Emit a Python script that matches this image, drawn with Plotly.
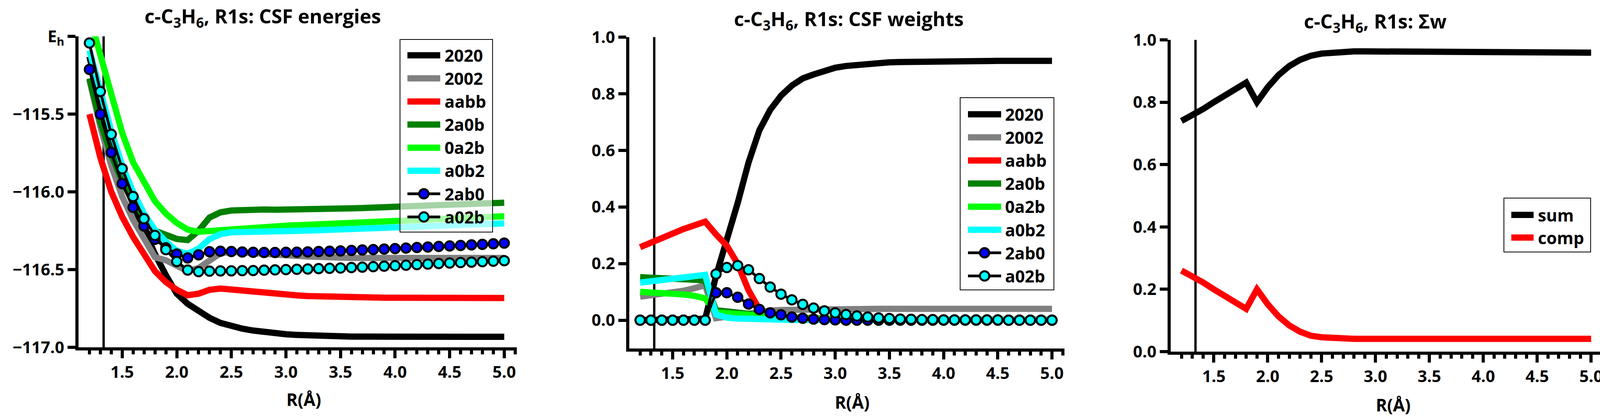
import plotly.graph_objects as go

# ------------------------------------------------------------
# data
# ------------------------------------------------------------
R = [1.2, 1.3, 1.4, 1.5, 1.6, 1.7, 1.8, 1.9, 2.0, 2.1, 2.2, 2.3, 2.4,
     2.5, 2.6, 2.7, 2.8, 2.9, 3.0, 3.1, 3.2, 3.3, 3.4, 3.5, 3.6, 3.7,
     3.8, 3.9, 4.0, 4.1, 4.2, 4.3, 4.4, 4.5, 4.6, 4.7, 4.8, 4.9, 5.0]

R_REF = 1.33  # vertical reference line

# CSF energies (Eh)
E_2020 = [-115.13, -115.43, -115.68, -115.90, -116.08, -116.245, -116.40, -116.535, -116.655,
          -116.72, -116.77, -116.81, -116.843, -116.865, -116.88, -116.892, -116.902, -116.91,
          -116.916, -116.92, -116.924, -116.927, -116.929, -116.93, -116.931, -116.931, -116.932,
          -116.932, -116.932, -116.932, -116.932, -116.932, -116.932, -116.932, -116.932, -116.932,
          -116.932, -116.932, -116.932]
E_2002 = [-115.28, -115.58, -115.83, -116.03, -116.18, -116.30, -116.42, -116.44, -116.48,
          -116.51, -116.49, -116.44, -116.395, -116.385, -116.388, -116.392, -116.397, -116.402,
          -116.407, -116.412, -116.416, -116.42, -116.422, -116.424, -116.425, -116.425, -116.425,
          -116.425, -116.425, -116.425, -116.425, -116.425, -116.425, -116.425, -116.425, -116.425,
          -116.425, -116.425, -116.425]
E_aabb = [-115.50, -115.78, -116.00, -116.16, -116.29, -116.405, -116.51, -116.58, -116.63,
          -116.665, -116.655, -116.63, -116.622, -116.628, -116.636, -116.644, -116.651, -116.657,
          -116.662, -116.666, -116.67, -116.673, -116.675, -116.677, -116.678, -116.679, -116.68,
          -116.681, -116.681, -116.682, -116.682, -116.682, -116.683, -116.683, -116.683, -116.683,
          -116.683, -116.683, -116.683]
E_2a0b = [-115.27, -115.55, -115.76, -115.93, -116.07, -116.17, -116.25, -116.28, -116.303,
          -116.31, -116.25, -116.165, -116.132, -116.12, -116.115, -116.114, -116.114, -116.115,
          -116.115, -116.114, -116.113, -116.111, -116.11, -116.108, -116.106, -116.104, -116.102,
          -116.10, -116.098, -116.095, -116.093, -116.09, -116.088, -116.085, -116.082, -116.079,
          -116.076, -116.073, -116.07]
E_0a2b = [-114.87, -115.12, -115.37, -115.62, -115.81, -115.945, -116.06, -116.14, -116.20,
          -116.243, -116.257, -116.252, -116.246, -116.24, -116.235, -116.23, -116.226, -116.222,
          -116.218, -116.215, -116.212, -116.209, -116.206, -116.203, -116.20, -116.197, -116.194,
          -116.19, -116.187, -116.184, -116.181, -116.178, -116.175, -116.172, -116.169, -116.166,
          -116.163, -116.16, -116.157]
E_a0b2 = [-115.09, -115.36, -115.61, -115.83, -116.00, -116.14, -116.245, -116.32, -116.38,
          -116.398, -116.365, -116.304, -116.272, -116.26, -116.257, -116.255, -116.254, -116.253,
          -116.252, -116.25, -116.249, -116.247, -116.245, -116.243, -116.241, -116.238, -116.236,
          -116.234, -116.232, -116.229, -116.226, -116.224, -116.221, -116.218, -116.215, -116.212,
          -116.209, -116.206, -116.203]
E_2ab0 = [-115.213, -115.50, -115.747, -115.947, -116.10, -116.22, -116.305, -116.36, -116.40,
          -116.425, -116.405, -116.385, -116.382, -116.384, -116.387, -116.389, -116.39, -116.39,
          -116.389, -116.388, -116.386, -116.384, -116.382, -116.38, -116.377, -116.374, -116.371,
          -116.368, -116.365, -116.362, -116.358, -116.355, -116.351, -116.348, -116.345, -116.341,
          -116.338, -116.334, -116.33]
E_a02b = [-115.043, -115.355, -115.63, -115.851, -116.03, -116.173, -116.28, -116.372, -116.448,
          -116.503, -116.513, -116.51, -116.509, -116.508, -116.507, -116.506, -116.504, -116.502,
          -116.50, -116.498, -116.496, -116.494, -116.492, -116.49, -116.487, -116.484, -116.481,
          -116.478, -116.475, -116.472, -116.468, -116.465, -116.461, -116.458, -116.455, -116.452,
          -116.449, -116.446, -116.443]

# CSF weights
W_2020 = [0, 0, 0, 0, 0, 0, 0.005, 0.156, 0.278, 0.414, 0.557, 0.671, 0.743, 0.793, 0.829,
          0.854, 0.868, 0.88, 0.892, 0.898, 0.902, 0.906, 0.909, 0.911, 0.912, 0.913, 0.914,
          0.914, 0.915, 0.915, 0.915, 0.916, 0.916, 0.916, 0.916, 0.916, 0.916, 0.916, 0.916]
W_2002 = [0.083, 0.087, 0.091, 0.095, 0.104, 0.113, 0.124, 0.007, 0.013, 0.02, 0.026, 0.031,
          0.034, 0.036, 0.037, 0.038, 0.039, 0.039, 0.04, 0.04, 0.04, 0.04, 0.04, 0.04, 0.04,
          0.04, 0.04, 0.04, 0.04, 0.04, 0.04, 0.04, 0.04, 0.04, 0.04, 0.04, 0.04, 0.04, 0.04]
W_aabb = [0.258, 0.276, 0.291, 0.306, 0.322, 0.335, 0.348, 0.303, 0.263, 0.199, 0.106, 0.038,
          0.009, 0.004, 0.002, 0.001, 0.001, 0.001, 0.001, 0.001, 0.001, 0.001, 0.001, 0.001,
          0.001, 0.001, 0.001, 0.001, 0.001, 0.001, 0.001, 0.001, 0.001, 0.001, 0.001, 0.001,
          0.001, 0.001, 0.001]
W_2a0b = [0.152, 0.151, 0.15, 0.148, 0.146, 0.143, 0.14, 0.035, 0.031, 0.026, 0.02, 0.017,
          0.014, 0.011, 0.009, 0.007, 0.006, 0.005, 0.004, 0.003, 0.003, 0.002, 0.002, 0.002,
          0.002, 0.002, 0.002, 0.002, 0.002, 0.001, 0.001, 0.001, 0.001, 0.001, 0.001, 0.001,
          0.001, 0.001, 0.001]
W_0a2b = [0.10, 0.099, 0.097, 0.095, 0.091, 0.086, 0.077, 0.027, 0.024, 0.02, 0.016, 0.013,
          0.011, 0.009, 0.007, 0.006, 0.005, 0.004, 0.003, 0.003, 0.002, 0.002, 0.002, 0.002,
          0.002, 0.002, 0.002, 0.002, 0.002, 0.002, 0.002, 0.002, 0.002, 0.002, 0.002, 0.002,
          0.002, 0.002, 0.002]
W_a0b2 = [0.133, 0.137, 0.141, 0.146, 0.15, 0.155, 0.16, 0.02, 0.009, 0.006, 0.004, 0.003,
          0.002, 0.001, 0.001, 0.001, 0.001, 0.001, 0.001, 0.001, 0.001, 0.001, 0.001, 0.001,
          0.001, 0.001, 0.001, 0.001, 0.001, 0.001, 0.001, 0.001, 0.001, 0.001, 0.001, 0.001,
          0.001, 0.001, 0.001]
W_2ab0 = [0, 0, 0, 0, 0, 0, 0, 0.097, 0.097, 0.081, 0.057, 0.038, 0.026, 0.019, 0.011, 0.007,
          0.004, 0.002, 0.001, 0, 0, 0, 0, 0, 0, 0, 0, 0, 0, 0, 0, 0, 0, 0, 0, 0, 0, 0, 0]
W_a02b = [0, 0, 0, 0, 0, 0, 0, 0.163, 0.186, 0.193, 0.178, 0.147, 0.117, 0.092, 0.072, 0.056,
          0.043, 0.033, 0.026, 0.02, 0.015, 0.011, 0.008, 0.006, 0.004, 0.003, 0.002, 0.002,
          0.001, 0.001, 0.001, 0.001, 0.001, 0.001, 0, 0, 0, 0, 0]

# sum of weights and its complement
W_SUM = [0.74, 0.757, 0.778, 0.80, 0.822, 0.843, 0.863, 0.80, 0.848, 0.887, 0.916, 0.936,
         0.949, 0.956, 0.96, 0.962, 0.963, 0.963, 0.963, 0.963, 0.963, 0.962, 0.962, 0.962,
         0.962, 0.961, 0.961, 0.961, 0.961, 0.96, 0.96, 0.96, 0.96, 0.96, 0.959, 0.959,
         0.959, 0.959, 0.959]
W_COMP = [0.26, 0.243, 0.222, 0.20, 0.178, 0.157, 0.137, 0.20, 0.152, 0.113, 0.084, 0.064,
          0.051, 0.046, 0.043, 0.042, 0.041, 0.041, 0.041, 0.041, 0.041, 0.041, 0.041, 0.041,
          0.041, 0.041, 0.041, 0.041, 0.041, 0.041, 0.041, 0.041, 0.041, 0.041, 0.041, 0.041,
          0.041, 0.041, 0.041]

CSF_NAMES = ["2020", "2002", "aabb", "2a0b", "0a2b", "a0b2", "2ab0", "a02b"]
ENERGIES = [E_2020, E_2002, E_aabb, E_2a0b, E_0a2b, E_a0b2, E_2ab0, E_a02b]
WEIGHTS = [W_2020, W_2002, W_aabb, W_2a0b, W_0a2b, W_a0b2, W_2ab0, W_a02b]
SUM_NAMES = ["sum", "comp"]
SUMS = [W_SUM, W_COMP]

X_MAJOR = [1.5, 2.0, 2.5, 3.0, 3.5, 4.0, 4.5, 5.0]
X_MINOR = [round(1.2 + 0.1 * i, 1) for i in range(40)]
X_MINOR = [v for v in X_MINOR if v not in X_MAJOR]
E_TICKS = [-117.0, -116.5, -116.0, -115.5, -115.0]
E_LABELS = ["\u2212117.0", "\u2212116.5", "\u2212116.0", "\u2212115.5", "E<sub>h</sub>"]
W_TICKS = [0.0, 0.2, 0.4, 0.6, 0.8, 1.0]

# ------------------------------------------------------------
# styles
# ------------------------------------------------------------
W, H = 4135, 1075
FONT = "Open Sans"
LW = 16          # width of the plain CSF lines
MARK_LW = 7      # black line joining the markers
MARK_SIZE = 24

STYLE = {
    "2020": dict(color="black"),
    "2002": dict(color="#808080"),
    "aabb": dict(color="#FF0000"),
    "2a0b": dict(color="#008000"),
    "0a2b": dict(color="#00FF00"),
    "a0b2": dict(color="#00FFFF"),
    "2ab0": dict(color="black", marker="#0000FF"),
    "a02b": dict(color="black", marker="#00FFFF"),
    "sum": dict(color="black"),
    "comp": dict(color="#FF0000"),
}


def px(x):
    return x / W


def py(y):
    return 1 - y / H


def make_trace(name, xs, ys, xa, ya):
    st = STYLE[name]
    if "marker" in st:
        return go.Scatter(x=xs, y=ys, name=name, mode="lines+markers", xaxis=xa, yaxis=ya,
                          line=dict(color="black", width=MARK_LW),
                          marker=dict(color=st["marker"], size=MARK_SIZE,
                                      line=dict(color="black", width=5)),
                          showlegend=False)
    return go.Scatter(x=xs, y=ys, name=name, mode="lines", xaxis=xa, yaxis=ya,
                      line=dict(color=st["color"], width=LW), showlegend=False)


fig = go.Figure()
for name, ys in zip(CSF_NAMES, ENERGIES):
    fig.add_trace(make_trace(name, R, ys, "x", "y"))
for name, ys in zip(CSF_NAMES, WEIGHTS):
    fig.add_trace(make_trace(name, R, ys, "x2", "y2"))
for name, ys in zip(SUM_NAMES, SUMS):
    fig.add_trace(make_trace(name, R, ys, "x3", "y3"))

# plot boxes in pixels: left, right, top, bottom
PANELS = [(201, 1323, 93, 889), (1611, 2725, 95, 892), (2997, 4105, 102, 900)]

tick_font = dict(family=FONT, size=42, color="black", weight="bold")
axis_common = dict(showline=True, linecolor="black", linewidth=8, ticks="outside",
                   tickcolor="black", tickwidth=8, ticklen=20, tickfont=tick_font,
                   showgrid=False, zeroline=False, automargin=False, fixedrange=True)

layout_axes = {}
for i, (l, r, t, b) in enumerate(PANELS):
    sfx = "" if i == 0 else str(i + 1)
    layout_axes["xaxis" + sfx] = dict(
        domain=[px(l), px(r)], anchor="y" + sfx, range=[1.1, 5.115],
        tickmode="array", tickvals=X_MAJOR, ticktext=[f"{v:.1f}" for v in X_MAJOR],
        minor=dict(tickmode="array", tickvals=X_MINOR, ticks="outside", ticklen=10,
                   tickwidth=8, tickcolor="black"),
        **axis_common)
    if i == 0:
        yextra = dict(range=[-117.0, -115.0], tickvals=E_TICKS, ticktext=E_LABELS)
    elif i == 1:
        yextra = dict(range=[-0.1, 1.0], tickvals=W_TICKS,
                      ticktext=[f"{v:.1f}" for v in W_TICKS])
    else:
        yextra = dict(range=[0.0, 1.0], tickvals=W_TICKS,
                      ticktext=[f"{v:.1f}" for v in W_TICKS])
    layout_axes["yaxis" + sfx] = dict(domain=[py(b), py(t)], anchor="x" + sfx,
                                      tickmode="array", **yextra, **axis_common)

shapes = []
annotations = []

# vertical reference line in each panel
for i in range(3):
    sfx = "" if i == 0 else str(i + 1)
    shapes.append(dict(type="line", xref="x" + sfx, yref=("y" + sfx + " domain"),
                       x0=R_REF, x1=R_REF, y0=0, y1=1,
                       line=dict(color="black", width=6), layer="below"))

# titles and axis titles
TITLES = ["c-C<sub>3</sub>H<sub>6</sub>, R1s: CSF energies",
          "c-C<sub>3</sub>H<sub>6</sub>, R1s: CSF weights",
          "c-C<sub>3</sub>H<sub>6</sub>, R1s: \u03a3w"]
TITLE_POS = [(672, 44), (2173, 51), (3521, 57)]
XLABEL_POS = [(777, 1022), (2181, 1029), (3566, 1036)]
title_font = dict(family=FONT, size=50, color="black", weight="bold")
label_font = dict(family=FONT, size=44, color="black", weight="bold")
legend_font = dict(family=FONT, size=43, color="black", weight="bold")
for txt, (tx, ty), (lx, ly) in zip(TITLES, TITLE_POS, XLABEL_POS):
    annotations.append(dict(text=txt, x=px(tx), y=py(ty), xref="paper", yref="paper",
                            xanchor="center", yanchor="middle", showarrow=False,
                            font=title_font))
    annotations.append(dict(text="R(\u00c5)", x=px(lx), y=py(ly), xref="paper", yref="paper",
                            xanchor="center", yanchor="middle", showarrow=False,
                            font=label_font))

# hand-made legends: box (l, r, t, b), first row y, row step, swatch x0, x1, text x
LEGENDS = [
    (CSF_NAMES, (1024, 1261, 101, 594), 141.5, 59.1, 1043, 1127, 1136),
    (CSF_NAMES, (2458, 2698, 250, 742), 292.5, 59.1, 2478, 2563, 2571),
    (SUM_NAMES, (3850, 4072, 507, 645), 550, 58.0, 3869, 3926, 3935),
]
for names, (bl, br, bt, bb), y0, dy, sx0, sx1, tx in LEGENDS:
    shapes.append(dict(type="rect", xref="paper", yref="paper",
                       x0=px(bl), x1=px(br), y0=py(bb), y1=py(bt),
                       fillcolor="rgba(255,255,255,0.65)",
                       line=dict(color="black", width=2), layer="above"))
    for k, name in enumerate(names):
        yy = y0 + k * dy
        st = STYLE[name]
        has_marker = "marker" in st
        shapes.append(dict(type="line", xref="paper", yref="paper",
                           x0=px(sx0), x1=px(sx1), y0=py(yy), y1=py(yy),
                           line=dict(color=st["color"], width=MARK_LW if has_marker else LW),
                           layer="above"))
        if has_marker:
            cx = (sx0 + sx1) / 2
            r = MARK_SIZE / 2
            shapes.append(dict(type="circle", xref="paper", yref="paper",
                               xsizemode="pixel", ysizemode="pixel",
                               xanchor=px(cx), yanchor=py(yy),
                               x0=-r, x1=r, y0=-r, y1=r,
                               fillcolor=st["marker"], line=dict(color="black", width=5),
                               layer="above"))
        annotations.append(dict(text=name, x=px(tx), y=py(yy), xref="paper", yref="paper",
                                xanchor="left", yanchor="middle", showarrow=False,
                                font=legend_font))

fig.update_layout(
    width=W, height=H,
    margin=dict(l=0, r=0, t=0, b=0),
    paper_bgcolor="white", plot_bgcolor="white",
    showlegend=False,
    shapes=shapes, annotations=annotations,
    **layout_axes,
)

# the page's default body margin would push the figure off the window
fig.write_html("out.html", config={"displayModeBar": False},
               post_script="document.body.style.margin='0';")
